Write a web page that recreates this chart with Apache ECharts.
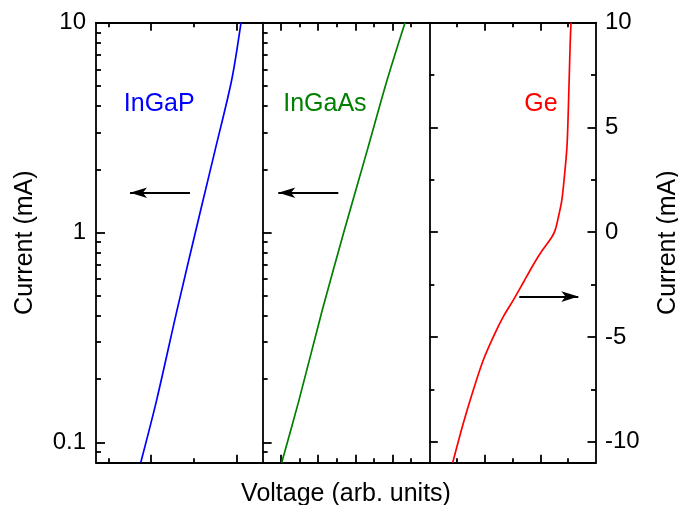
<!DOCTYPE html>
<html>
<head>
<meta charset="utf-8">
<script src="https://cdn.jsdelivr.net/npm/echarts@6/dist/echarts.min.js"></script>
<style>
  html, body { margin: 0; padding: 0; background: #fff; }
  #chart { width: 678px; height: 505px; }
</style>
</head>
<body>
<div id="chart"></div>
<script>
// [voltage (arb.), current (mA)]
const ingapData = [[0.756, 0.08], [1.129, 0.159], [1.606, 0.427], [2.16, 1.28], [2.497, 2.47], [2.885, 5.33], [3.103, 10]];
const ingaasData = [[1.027, 0.08], [1.962, 0.159], [3.22, 0.427], [4.418, 1.03], [5.65, 2.47], [6.72, 5.33], [7.686, 10]];
const geData = [[0.841, -11.0], [1.223, -9.12], [1.583, -7.53], [1.943, -6.10], [2.303, -4.99], [2.663, -4.03],
  [3.023, -3.24], [3.383, -2.40], [3.743, -1.55], [4.05, -0.9], [4.40, -0.25], [4.53, 0.1], [4.65, 0.75],
  [4.77, 1.53], [4.884, 2.96], [4.96, 4.2], [5.02, 6.6], [5.07, 9.0], [5.1, 10]];

const panelNames = ['InGaP', 'InGaAs', 'Ge'];
const panelColors = ['#0000ff', '#008000', '#ff0000'];
const panelXRange = [[-0.29, 3.61], [0, 9], [0, 6]];
const panelXMajor = [[1, 3], [1, 3, 5, 7], [2, 4]];
const panelXMinor = [[0, 2], [2, 4, 6, 8], [1, 3, 5]];
const labelAt = [[0.349, 4.1], [1.082, 4.1], [3.40, 6.12]];
const arrows = [[[1.909, 1.548], [0.507, 1.548]], [[4.084, 1.548], [0.844, 1.548]], [[3.239, -3.07], [5.363, -3.07]]];

const logMajor = [0.1, 1, 10];
const logMinor = [0.09, 0.2, 0.3, 0.4, 0.5, 0.6, 0.7, 0.8, 0.9, 2, 3, 4, 5, 6, 7, 8, 9];
const linMajor = [-10, -5, 0, 5, 10];
const linMinor = [-7.5, -2.5, 2.5, 7.5];

const FONT = "'Liberation Sans', Arial, sans-serif";
const black = '#000';
const lw = 1.8;

const chart = echarts.init(document.getElementById('chart'), null, { renderer: 'canvas' });

const gridLeft = 96, gridW = 500 / 3;
const grids = [0, 1, 2].map(i => ({
  left: gridLeft + i * gridW, top: 22.7, width: gridW, height: 440,
  outerBoundsMode: 'none', containLabel: false
}));

function tickAxis(base, len, values, showLine) {
  return Object.assign({
    splitLine: { show: false },
    axisLine: { show: showLine, onZero: false, lineStyle: { color: black, width: lw } },
    axisTick: { show: true, inside: true, length: len, customValues: values, lineStyle: { color: black, width: lw } },
    axisLabel: { show: false }
  }, base);
}

const xAxes = [];
[0, 1, 2].forEach(i => {
  const base = { gridIndex: i, type: 'value', min: panelXRange[i][0], max: panelXRange[i][1] };
  const bottom = tickAxis(Object.assign({ position: 'bottom' }, base), 8, panelXMajor[i], true);
  if (i === 1) {
    Object.assign(bottom, {
      name: 'Voltage (arb. units)', nameLocation: 'middle', nameGap: 19,
      nameTextStyle: { fontFamily: FONT, fontSize: 25, color: black, verticalAlign: 'top' }
    });
  }
  xAxes.push(bottom);
  xAxes.push(tickAxis(Object.assign({ position: 'bottom' }, base), 4.5, panelXMinor[i], false));
  xAxes.push(tickAxis(Object.assign({ position: 'top' }, base), 8, panelXMajor[i], true));
  xAxes.push(tickAxis(Object.assign({ position: 'top' }, base), 4.5, panelXMinor[i], false));
});

const logBase = { type: 'log', logBase: 10, min: 0.08, max: 10, position: 'left' };
const linBase = { type: 'value', min: -11, max: 10 };

const yAxes = [
  tickAxis(Object.assign({ gridIndex: 0 }, logBase, {
    axisLabel: { show: true, customValues: logMajor, formatter: v => String(v), fontFamily: FONT, fontSize: 24, color: black, margin: 10 },
    name: 'Current (mA)', nameLocation: 'middle', nameRotate: 90, nameGap: 58,
    nameTextStyle: { fontFamily: FONT, fontSize: 25, color: black }
  }), 9, logMajor, true),
  tickAxis(Object.assign({ gridIndex: 0 }, logBase), 5, logMinor, false),
  tickAxis(Object.assign({ gridIndex: 1 }, logBase), 9, logMajor, true),
  tickAxis(Object.assign({ gridIndex: 1 }, logBase), 5, logMinor, false),
  tickAxis(Object.assign({ gridIndex: 2, position: 'left' }, linBase), 8.5, linMajor, true),
  tickAxis(Object.assign({ gridIndex: 2, position: 'left' }, linBase), 5, linMinor, false),
  tickAxis(Object.assign({ gridIndex: 2, position: 'right' }, linBase, {
    axisLabel: { show: true, customValues: linMajor, fontFamily: FONT, fontSize: 24, color: black, margin: 9 },
    name: 'Current (mA)', nameLocation: 'middle', nameRotate: 90, nameGap: 60,
    nameTextStyle: { fontFamily: FONT, fontSize: 25, color: black }
  }), 8.5, linMajor, true),
  tickAxis(Object.assign({ gridIndex: 2, position: 'right' }, linBase), 5, linMinor, false)
];

const seriesData = [ingapData, ingaasData, geData];
const yIndex = [0, 2, 6];

const series = [0, 1, 2].map(i => ({
  type: 'line',
  xAxisIndex: i * 4,
  yAxisIndex: yIndex[i],
  data: seriesData[i],
  smooth: 0.3,
  showSymbol: false,
  clip: true,
  silent: true,
  lineStyle: { color: panelColors[i], width: 1.7 },
  markPoint: {
    symbol: 'circle',
    symbolSize: 1,
    silent: true,
    itemStyle: { color: 'rgba(0,0,0,0)' },
    data: [{ coord: labelAt[i], name: panelNames[i] }],
    label: {
      show: true, position: 'right', distance: 0, formatter: panelNames[i],
      fontFamily: FONT, fontSize: 25, color: panelColors[i]
    }
  },
  markLine: {
    silent: true,
    symbol: ['none', 'arrow'],
    symbolSize: [8, 17],
    label: { show: false },
    lineStyle: { color: black, width: 1.8, type: 'solid' },
    data: [[{ coord: arrows[i][0] }, { coord: arrows[i][1] }]]
  }
}));

chart.setOption({
  animation: false,
  backgroundColor: '#fff',
  grid: grids,
  xAxis: xAxes,
  yAxis: yAxes,
  series: series
});

window.addEventListener('resize', () => chart.resize());
</script>
</body>
</html>
